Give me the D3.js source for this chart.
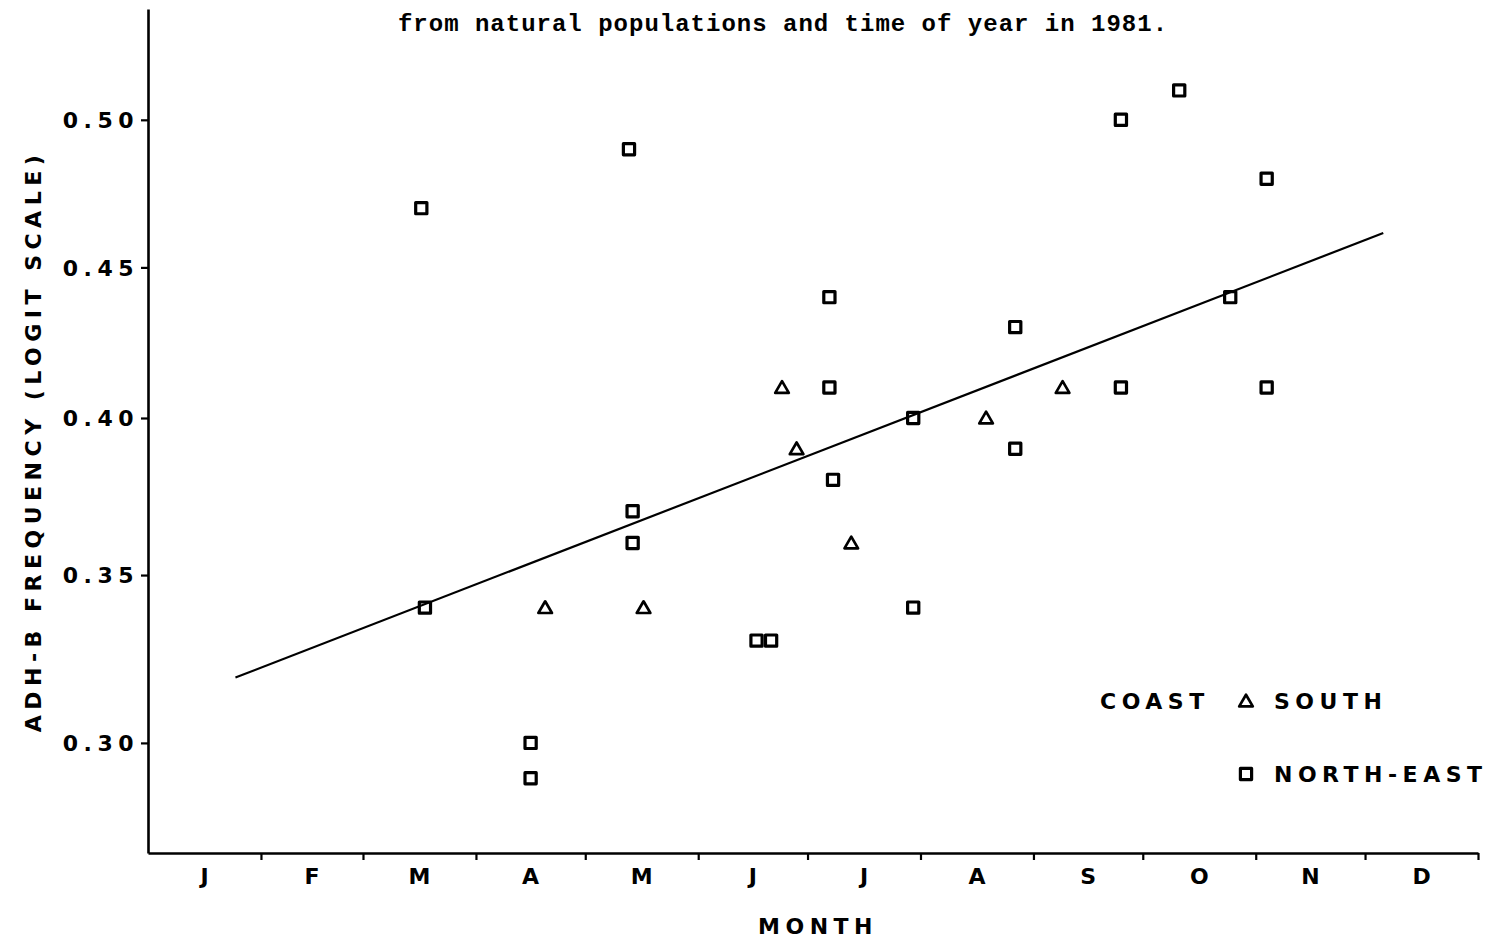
<!DOCTYPE html>
<html>
<head>
<meta charset="utf-8">
<script src="https://cdn.jsdelivr.net/npm/d3@7"></script>
<style>
  html, body { margin: 0; padding: 0; background: #fff; }
  svg { display: block; }
  .lbl { font-family: "DejaVu Sans", sans-serif; font-weight: bold; font-size: 22px; fill: #000; letter-spacing: 5.5px; }
  .title { font-family: "Liberation Mono", monospace; font-weight: bold; font-size: 24px; fill: #000; letter-spacing: 1px; }
</style>
</head>
<body>
<svg id="chart" width="1494" height="941"></svg>
<script>
// ADH-B frequency by day of year, 1981
const monthLabels = ["J", "F", "M", "A", "M", "J", "J", "A", "S", "O", "N", "D"];
const monthStarts = [0, 31, 59, 90, 120, 151, 181, 212, 243, 273, 304, 334, 365];
const freqTicks = [0.30, 0.35, 0.40, 0.45, 0.50];

// Coast South samples (day of year, frequency)
const southDays = [109, 136, 174, 178, 193, 230, 251];
const southFreq = [0.34, 0.34, 0.41, 0.39, 0.36, 0.40, 0.41];

// North-East samples (day of year, frequency)
const northEastDays = [75, 76, 105, 105, 132, 133, 133, 167, 171, 187, 187, 188, 210, 210, 238, 238, 267, 267, 283, 297, 307, 307];
const northEastFreq = [0.47, 0.34, 0.30, 0.29, 0.49, 0.37, 0.36, 0.33, 0.33, 0.44, 0.41, 0.38, 0.40, 0.34, 0.43, 0.39, 0.50, 0.41, 0.51, 0.44, 0.48, 0.41];

// Fitted regression line endpoints (day of year, frequency)
const fitDays = [24, 339];
const fitFreq = [0.319, 0.4616];

const logit = p => Math.log(p / (1 - p));

const svg = d3.select("#chart");
const x0 = 148, x1 = 1478, yTop = 9, yBot = 853;

const x = d3.scaleLinear().domain([0, 365]).range([x0, x1]);
const yLogit = d3.scaleLinear().domain([-0.997, 0.1507]).range([yBot, yTop]);
const y = p => yLogit(logit(p));

// Title line
svg.append("text").attr("class", "title")
  .attr("x", 783).attr("y", 31).attr("text-anchor", "middle")
  .text("from natural populations and time of year in 1981.");

// Y axis (logit scale)
const yAxis = d3.axisLeft(yLogit)
  .tickValues(freqTicks.map(logit))
  .tickFormat((d, i) => freqTicks[i].toFixed(2))
  .tickSize(7).tickSizeOuter(0).tickPadding(2);
const gy = svg.append("g").attr("transform", `translate(${x0},0)`).call(yAxis);
gy.attr("font-family", null).attr("font-size", null);
gy.select(".domain").attr("stroke", "#000").attr("stroke-width", 2.6);
gy.selectAll(".tick line").attr("stroke", "#000").attr("stroke-width", 2.2);
gy.selectAll(".tick text").attr("class", "lbl").attr("dy", "0.36em");

// X axis (months)
const xAxis = d3.axisBottom(x)
  .tickValues(monthStarts.slice(1))
  .tickFormat("")
  .tickSize(7).tickSizeOuter(0);
const gx = svg.append("g").attr("transform", `translate(0,${yBot})`).call(xAxis);
gx.select(".domain").attr("stroke", "#000").attr("stroke-width", 2.6);
gx.selectAll(".tick line").attr("stroke", "#000").attr("stroke-width", 2.2);

svg.append("g").selectAll("text")
  .data(monthLabels)
  .join("text")
  .attr("class", "lbl")
  .attr("x", (d, i) => x((monthStarts[i] + monthStarts[i + 1]) / 2) + 2.75)
  .attr("y", 884)
  .attr("text-anchor", "middle")
  .text(d => d);

// Axis titles
svg.append("text").attr("class", "lbl")
  .attr("x", 818).attr("y", 934).attr("text-anchor", "middle")
  .text("MONTH");
svg.append("text").attr("class", "lbl")
  .attr("transform", "translate(41,441) rotate(-90)")
  .attr("text-anchor", "middle")
  .text("ADH-B FREQUENCY (LOGIT SCALE)");

// Regression line
svg.append("line")
  .attr("x1", x(fitDays[0])).attr("y1", y(fitFreq[0]))
  .attr("x2", x(fitDays[1])).attr("y2", y(fitFreq[1]))
  .attr("stroke", "#000").attr("stroke-width", 2.2);

// Markers
const squarePath = "M-5.6,-5.6H5.6V5.6H-5.6Z";
const trianglePath = "M0,-6.3L6.8,5.4H-6.8Z";

svg.append("g").selectAll("path")
  .data(northEastDays.map((d, i) => [d, northEastFreq[i]]))
  .join("path")
  .attr("d", squarePath)
  .attr("transform", d => `translate(${x(d[0])},${y(d[1])})`)
  .attr("fill", "none").attr("stroke", "#000").attr("stroke-width", 3.2)
  .attr("stroke-linejoin", "round");

svg.append("g").selectAll("path")
  .data(southDays.map((d, i) => [d, southFreq[i]]))
  .join("path")
  .attr("d", trianglePath)
  .attr("transform", d => `translate(${x(d[0])},${y(d[1])})`)
  .attr("fill", "none").attr("stroke", "#000").attr("stroke-width", 2.7)
  .attr("stroke-linejoin", "round");

// Legend
const legend = svg.append("g");
legend.append("text").attr("class", "lbl").attr("x", 1100).attr("y", 709).text("COAST");
legend.append("path").attr("d", trianglePath).attr("transform", "translate(1246,701)")
  .attr("fill", "none").attr("stroke", "#000").attr("stroke-width", 2.7).attr("stroke-linejoin", "round");
legend.append("text").attr("class", "lbl").attr("x", 1274).attr("y", 709).text("SOUTH");
legend.append("path").attr("d", squarePath).attr("transform", "translate(1246,774)")
  .attr("fill", "none").attr("stroke", "#000").attr("stroke-width", 3.2).attr("stroke-linejoin", "round");
legend.append("text").attr("class", "lbl").attr("x", 1274).attr("y", 782).text("NORTH-EAST");
</script>
</body>
</html>
